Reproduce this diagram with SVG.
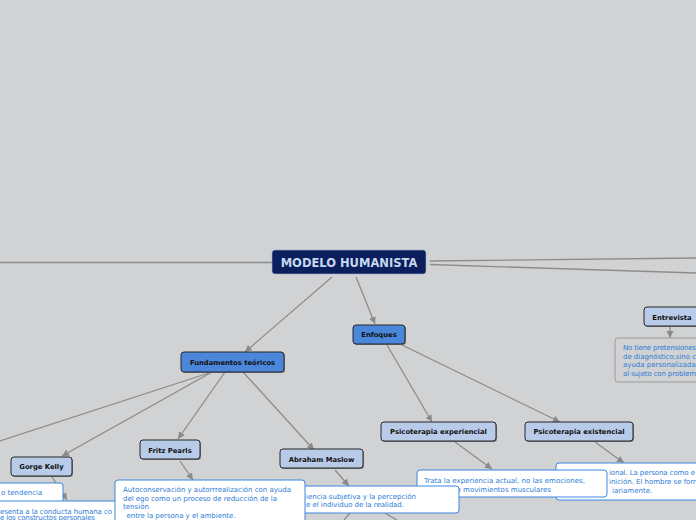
<svg xmlns="http://www.w3.org/2000/svg" width="696" height="520" viewBox="0 0 696 520">
<defs>
<marker id="ah" markerUnits="userSpaceOnUse" markerWidth="7" markerHeight="7" refX="7" refY="3.5" orient="auto">
<path d="M0,0 L7,3.5 L0,7 z" fill="#8a8a8a"/>
</marker>
</defs>
<style>
.c{stroke:#8c8c8c;stroke-width:1.3;fill:none}
.a{marker-end:url(#ah)}
.title{fill:#0b1f5c;stroke:#9fb4d4;stroke-width:0.6}
.tt{font-family:"DejaVu Sans",Verdana,sans-serif;font-weight:bold;font-size:11.5px;fill:#c6d8ef;text-anchor:middle}
.n1{fill:#4a86d9;stroke:#262626;stroke-width:1}
.n2{fill:#b8cbe8;stroke:#262626;stroke-width:1}
.sh{fill:#7d7f82}
.lb{font-family:"DejaVu Sans",Verdana,sans-serif;font-weight:bold;font-size:6.8px;fill:#111;text-anchor:middle}
.nb{fill:#ffffff;stroke:#3b86e0;stroke-width:1}
.gb{fill:#d1d2d4;stroke:#9a9a9a;stroke-width:1}
.nt{font-family:"DejaVu Sans",Verdana,sans-serif;font-size:7px;fill:#2b7bd6}
</style>
<rect x="0" y="0" width="696" height="520" fill="#d1d2d4"/>
<g id="connectors">
<line class="c" x1="0" y1="262.5" x2="272" y2="262.5"/>
<line class="c" x1="430" y1="261" x2="696" y2="258"/>
<line class="c" x1="430" y1="264.5" x2="696" y2="273"/>
<line class="c a" x1="332" y1="277" x2="245" y2="352"/>
<line class="c a" x1="356" y1="277" x2="375" y2="324"/>
<line class="c" x1="212" y1="372" x2="0" y2="441"/>
<line class="c a" x1="212" y1="372" x2="62" y2="456"/>
<line class="c a" x1="225" y1="372" x2="178" y2="439"/>
<line class="c a" x1="243" y1="372" x2="314" y2="450"/>
<line class="c a" x1="387" y1="345" x2="432" y2="422"/>
<line class="c a" x1="400" y1="344" x2="560" y2="422"/>
<line class="c a" x1="52" y1="477" x2="67" y2="500"/>
<line class="c a" x1="180" y1="461" x2="193" y2="480"/>
<line class="c a" x1="335" y1="470" x2="349" y2="486"/>
<line class="c a" x1="455" y1="442" x2="492" y2="469"/>
<line class="c a" x1="595" y1="442" x2="624" y2="463"/>
<line class="c a" x1="670" y1="327" x2="670" y2="338"/>
<line class="c" x1="350" y1="513" x2="344" y2="520"/>
<line class="c" x1="385" y1="513" x2="397" y2="520"/>
</g>
<g id="modelo-humanista">
<rect class="title" x="272" y="250" width="154" height="24" rx="3"/>
<text class="tt" x="349" y="266.5">MODELO HUMANISTA</text>
</g>
<g id="fundamentos">
<rect class="sh" x="182" y="353" width="103" height="20" rx="3"/>
<rect class="n1" x="181" y="352" width="103" height="20" rx="3"/>
<text class="lb" x="232.5" y="364.5">Fundamentos teóricos</text>
</g>
<g id="enfoques">
<rect class="sh" x="354" y="326" width="52" height="19" rx="3"/>
<rect class="n1" x="353" y="325" width="52" height="19" rx="3"/>
<text class="lb" x="379" y="337">Enfoques</text>
</g>
<g id="entrevista">
<rect class="sh" x="645" y="308" width="60" height="19" rx="3"/>
<rect class="n2" x="644" y="307" width="60" height="19" rx="3"/>
<text class="lb" x="672" y="319.5">Entrevista</text>
</g>
<g id="entrevista-nota">
<rect class="gb" x="615" y="338" width="90" height="44" rx="3"/>
<text class="nt" x="623" y="350" textLength="73">No tiene pretensiones</text>
<text class="nt" x="623" y="358.5" textLength="73">de diagnóstico,sino c</text>
<text class="nt" x="623" y="367">ayuda personalizada</text>
<text class="nt" x="623" y="375.5" textLength="73">al sujeto con problem</text>
</g>
<g id="psic-experiencial">
<rect class="sh" x="382" y="423" width="115" height="19" rx="3"/>
<rect class="n2" x="381" y="422" width="115" height="19" rx="3"/>
<text class="lb" x="438.5" y="434">Psicoterapia experiencial</text>
</g>
<g id="psic-existencial">
<rect class="sh" x="526" y="423" width="108" height="19" rx="3"/>
<rect class="n2" x="525" y="422" width="108" height="19" rx="3"/>
<text class="lb" x="579" y="434">Psicoterapia existencial</text>
</g>
<g id="gorge-kelly">
<rect class="sh" x="12" y="458" width="61" height="19" rx="3"/>
<rect class="n2" x="11" y="457" width="61" height="19" rx="3"/>
<text class="lb" x="41.5" y="469">Gorge Kelly</text>
</g>
<g id="fritz-pearls">
<rect class="sh" x="141" y="441" width="60" height="19" rx="3"/>
<rect class="n2" x="140" y="440" width="60" height="19" rx="3"/>
<text class="lb" x="170" y="452.5">Fritz Pearls</text>
</g>
<g id="abraham-maslow">
<rect class="sh" x="281" y="450" width="83" height="19" rx="3"/>
<rect class="n2" x="280" y="449" width="83" height="19" rx="3"/>
<text class="lb" x="321.5" y="461.5">Abraham Maslow</text>
</g>
<g id="existencial-nota">
<rect class="nb" x="556" y="463" width="150" height="37" rx="3"/>
<text class="nt" x="609" y="475" textLength="86">ional. La persona como e</text>
<text class="nt" x="609" y="484" textLength="87">inición. El hombre se forr</text>
<text class="nt" x="612" y="493">iariamente.</text>
</g>
<g id="experiencial-nota">
<rect class="nb" x="417" y="470" width="190" height="27" rx="3"/>
<text class="nt" x="424" y="483" textLength="161">Trata la experiencia actual, no las emociones,</text>
<text class="nt" x="424" y="491.5" textLength="127">palabras o movimientos musculares</text>
</g>
<g id="maslow-nota">
<rect class="nb" x="280" y="486" width="179" height="27" rx="3"/>
<text class="nt" x="306" y="498.5" textLength="110">iencia subjetiva y la percepción</text>
<text class="nt" x="306" y="507" textLength="98">e el individuo de la realidad.</text>
</g>
<g id="kelly-nota-1">
<rect class="nb" x="-5" y="483" width="68" height="30" rx="3"/>
<text class="nt" x="1" y="495">o tendencia</text>
</g>
<g id="kelly-nota-2">
<rect class="nb" x="-5" y="501" width="125" height="30" rx="3"/>
<text class="nt" x="0" y="513.5" textLength="112">esenta a la conducta humana co</text>
<text class="nt" x="0" y="520" textLength="95">e los constructos personales</text>
</g>
<g id="fritz-nota">
<rect class="nb" x="115" y="480" width="190" height="50" rx="3"/>
<text class="nt" x="123" y="492" textLength="168">Autoconservación y autorrrealización con ayuda</text>
<text class="nt" x="123" y="500.5" textLength="154">del ego como un proceso de reducción de la</text>
<text class="nt" x="123" y="509" textLength="26">tensión</text>
<text class="nt" x="126.5" y="517.5" textLength="109">entre la persona y el ambiente.</text>
</g>
</svg>
